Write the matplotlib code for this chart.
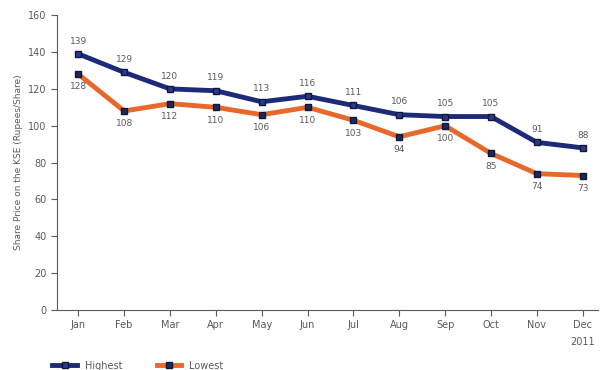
import matplotlib.pyplot as plt

months = ["Jan", "Feb", "Mar", "Apr", "May", "Jun", "Jul", "Aug", "Sep", "Oct", "Nov", "Dec"]
highest = [139, 129, 120, 119, 113, 116, 111, 106, 105, 105, 91, 88]
lowest = [128, 108, 112, 110, 106, 110, 103, 94, 100, 85, 74, 73]

navy = "#1c2a78"
orange = "#e8672a"
grey = "#5a5a5a"

fig = plt.figure(figsize=(6.02, 3.70), dpi=100)
ax = fig.add_axes([0.095, 0.162, 0.898, 0.797])
x = list(range(len(months)))

ax.plot(x, highest, color=navy, lw=3.5, marker="s", ms=4, mfc="#2b3a8f", mec="#10183a", label="Highest", zorder=3)
ax.plot(x, lowest, color=orange, lw=3.5, marker="s", ms=4, mfc="#1a2a5a", mec="#10183a", label="Lowest", zorder=3)

for i in x:
    ax.annotate(str(highest[i]), (i, highest[i]), xytext=(0, 6), textcoords="offset points",
                ha="center", va="bottom", fontsize=6.5, color=grey)
    ax.annotate(str(lowest[i]), (i, lowest[i]), xytext=(0, -6), textcoords="offset points",
                ha="center", va="top", fontsize=6.5, color=grey)

ax.set_xlim(-0.46, 11.33)
ax.set_ylim(0, 160)
ax.set_yticks(range(0, 161, 20))
ax.set_xticks(x)
ax.set_xticklabels(months)
ax.tick_params(labelsize=7, colors=grey, length=4, width=0.8)
for s in ["top", "right"]:
    ax.spines[s].set_visible(False)
for s in ["left", "bottom"]:
    ax.spines[s].set_color(grey)
    ax.spines[s].set_linewidth(0.8)
ax.set_ylabel("Share Price on the KSE (Rupees/Share)", fontsize=6.5, color=grey, labelpad=4)

fig.text(0.968, 0.068, "2011", fontsize=7, color=grey, ha="center")
ax.legend(loc="lower left", bbox_to_anchor=(-0.025, -0.235), ncol=2, frameon=False,
          fontsize=7, labelcolor=grey, handlelength=2.5, columnspacing=3.6)

fig.savefig("out.png", dpi=100)
